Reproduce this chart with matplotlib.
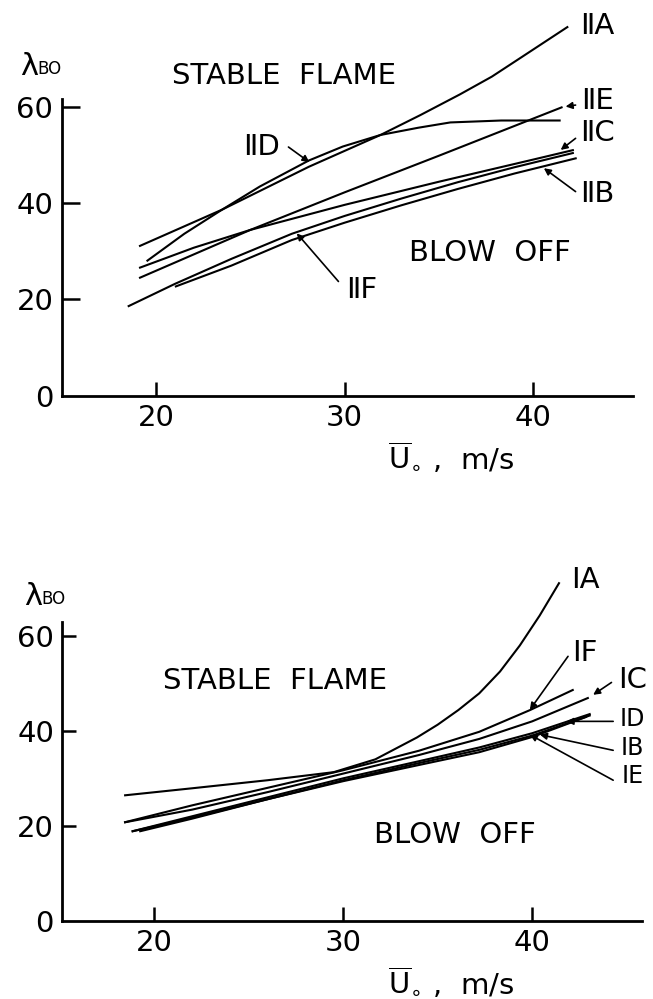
import numpy as np
import matplotlib
matplotlib.use("Agg")
import matplotlib.pyplot as plt

plt.rcParams['font.family'] = ['DejaVu Sans']
plt.rcParams['mathtext.fontset'] = 'dejavusans'

# ---- top panel (series II) ----
top_curves = {
    'IIA': ([19.1, 23.5, 28.1, 31.9, 34.0, 36.1, 37.8, 39.4, 41.85],
            [31.0, 38.6, 47.5, 54.1, 58.2, 62.5, 66.2, 70.3, 76.6]),
    'IID': ([19.5, 21.5, 23.5, 25.5, 28.1, 29.9, 31.9, 33.9, 35.6, 38.3, 41.45],
            [27.9, 33.6, 38.6, 43.4, 48.8, 51.7, 54.1, 55.6, 56.7, 57.1, 57.1]),
    'IIE': ([19.1, 25.0, 30.0, 35.0, 41.55],
            [24.4, 34.4, 42.2, 49.8, 59.9]),
    'IIC': ([19.1, 22.0, 25.0, 30.0, 35.0, 40.0, 42.15],
            [26.5, 30.7, 34.4, 39.6, 44.4, 49.0, 51.0]),
    'IIF': ([18.5, 21.0, 24.0, 27.2, 30.0, 33.0, 36.0, 39.0, 42.15],
            [18.5, 23.2, 28.4, 33.6, 37.3, 40.9, 44.3, 47.4, 50.4]),
    'IIB': ([21.0, 24.0, 27.2, 30.0, 33.0, 36.0, 39.0, 42.3],
            [22.6, 27.0, 32.3, 35.9, 39.5, 42.9, 46.1, 49.3]),
}
# label text, label position, arrow start, arrow tip, font size
top_labels = [
    ('\u2161A', (43.4, 76.8), None, None, 21),
    ('\u2161E', (43.4, 61.2), (42.24, 60.3), (41.71, 60.0), 21),
    ('\u2161C', (43.4, 54.5), (42.24, 53.4), (41.45, 51.0), 21),
    ('\u2161B', (43.4, 41.9), (42.24, 42.35), (40.56, 47.2), 21),
    ('\u2161D', (25.6, 51.6), (27.02, 51.6), (28.13, 48.45), 21),
    ('\u2161F', (30.9, 21.9), (29.67, 23.7), (27.46, 33.7), 21),
]

# ---- bottom panel (series I) ----
bottom_curves = {
    'IA': ([18.4, 22.0, 26.0, 29.5, 31.7, 33.9, 35.0, 36.1, 37.2, 38.3, 39.35, 40.4, 41.45],
           [26.4, 27.9, 29.6, 31.3, 34.0, 38.6, 41.3, 44.4, 47.9, 52.5, 58.0, 64.3, 71.3]),
    'IF': ([18.4, 22, 26, 30, 34, 37.2, 39.9, 42.2],
           [20.7, 24.3, 28.0, 31.7, 35.8, 39.8, 44.4, 48.7]),
    'IC': ([18.4, 22, 26, 30, 34, 37.2, 40, 43.0],
           [20.7, 23.4, 27.1, 31.0, 34.9, 38.3, 42.0, 47.0]),
    'ID': ([18.8, 22, 26, 30, 34, 37.2, 40, 43.1],
           [18.8, 22.0, 26.0, 30.0, 33.6, 36.5, 39.5, 43.6]),
    'IB': ([19.2, 22, 26, 30, 34, 37.2, 40, 43.1],
           [18.8, 21.5, 25.6, 29.6, 33.2, 36.0, 39.0, 43.3]),
    'IE': ([18.8, 22, 26, 30, 34, 37.2, 40, 42.9],
           [18.8, 21.7, 25.6, 29.4, 32.8, 35.5, 38.7, 43.0]),
}
bottom_labels = [
    ('\u2160A', (42.83, 71.7), None, None, 21),
    ('\u2160F', (42.79, 56.5), (41.90, 55.7), (39.88, 44.45), 21),
    ('\u2160C', (45.33, 50.8), (44.2, 50.2), (43.23, 47.6), 21),
    ('\u2160D', (45.3, 42.4), (44.29, 42.0), (41.82, 42.0), 17),
    ('\u2160B', (45.3, 36.4), (44.29, 35.9), (40.41, 39.2), 17),
    ('\u2160E', (45.3, 30.4), (44.29, 29.6), (39.88, 39.2), 17),
]

x_ticks = [20, 30, 40]
y_ticks = [0, 20, 40, 60]

FS = 21

fig = plt.figure(figsize=(6.53, 9.99), dpi=100)
W, H = 653.0, 999.0
ax1 = fig.add_axes([61.7 / W, 1 - 395.7 / H, 571.6 / W, (395.7 - 99.3) / H])
ax2 = fig.add_axes([62.3 / W, 1 - 920.7 / H, 579.4 / W, (920.7 - 621.7) / H])


def style_axes(ax, xlim, ylim, ylen):
    ax.set_xlim(*xlim)
    ax.set_ylim(*ylim)
    for s in ['top', 'right']:
        ax.spines[s].set_visible(False)
    for s in ['left', 'bottom']:
        ax.spines[s].set_linewidth(2.0)
    ax.set_xticks(x_ticks)
    ax.set_yticks(y_ticks)
    ax.tick_params(axis='x', direction='in', length=10, width=1.8, pad=6, labelsize=FS)
    ax.tick_params(axis='y', direction='in', length=ylen, width=1.8, pad=6, labelsize=FS)
    ax.yaxis.get_major_ticks()[0].tick1line.set_visible(False)


def draw(ax, curves, labels):
    for name, (xs, ys) in curves.items():
        ax.plot(xs, ys, color='k', lw=1.5, clip_on=False, solid_capstyle='butt')
    for txt, pos, start, tip, fs in labels:
        ax.text(pos[0], pos[1], txt, fontsize=fs, ha='center', va='center')
        if start is not None:
            ax.annotate('', xy=tip, xytext=start,
                        arrowprops=dict(arrowstyle='-|>', lw=1.2, color='k',
                                        mutation_scale=10, shrinkA=0, shrinkB=0))


style_axes(ax1, (15, 45.3), (0, 61.5), 13)
style_axes(ax2, (15.13, 45.8), (0, 63), 10)
draw(ax1, top_curves, top_labels)
draw(ax2, bottom_curves, bottom_labels)

ax1.text(26.8, 66.4, 'STABLE  FLAME', fontsize=FS, ha='center', va='center')
ax1.text(37.7, 29.6, 'BLOW  OFF', fontsize=FS, ha='center', va='center')
ax2.text(26.4, 50.6, 'STABLE  FLAME', fontsize=FS, ha='center', va='center')
ax2.text(35.9, 18.1, 'BLOW  OFF', fontsize=FS, ha='center', va='center')

xlabel = r'$\overline{\mathrm{U}}_{\circ}$ ,  m/s'
fig.text(388 / W, 1 - 468 / H, xlabel, fontsize=FS, ha='left', va='baseline')
fig.text(388 / W, 1 - 993 / H, xlabel, fontsize=FS, ha='left', va='baseline')

fig.text(20 / W, 1 - 75 / H, '\u03bb', fontsize=22, ha='left', va='baseline')
fig.text(37 / W, 1 - 74 / H, 'BO', fontsize=12, ha='left', va='baseline')
fig.text(24 / W, 1 - 605 / H, '\u03bb', fontsize=22, ha='left', va='baseline')
fig.text(41 / W, 1 - 604 / H, 'BO', fontsize=12, ha='left', va='baseline')

fig.savefig('out.png', dpi=100)
